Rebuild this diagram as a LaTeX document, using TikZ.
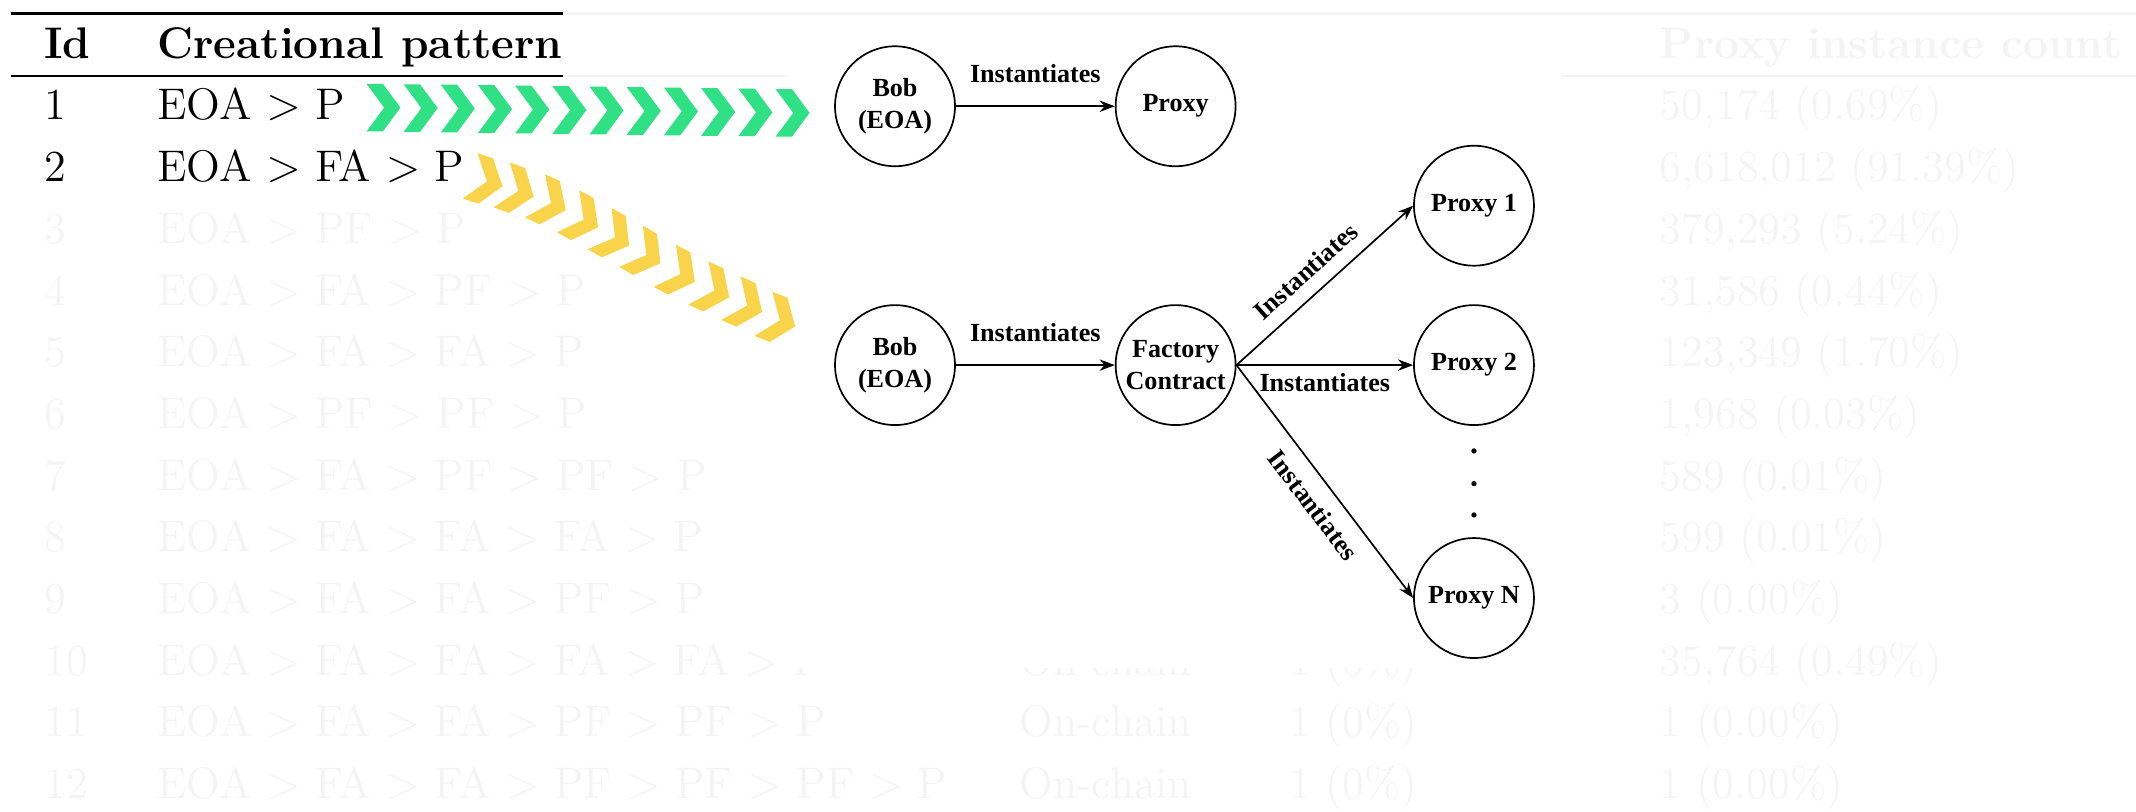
\documentclass[tikz,border=0pt]{standalone}
\usepackage{fontspec}
\newfontfamily\dgfont{Liberation Serif}
\usetikzlibrary{arrows.meta}
\definecolor{faint}{RGB}{244,244,244}
\definecolor{chgreen}{RGB}{47,224,133}
\definecolor{chyellow}{RGB}{249,212,74}
\tikzset{
  chev/.pic={\fill (-12.5,-17.5) -- (-0.5,-17.5) -- (12.5,0) -- (-0.5,17.5) -- (-12.5,17.5) -- (0.5,0) -- cycle;}
}
\begin{document}
\begin{tikzpicture}[x=0.36pt,y=-0.36pt,
  tabtxt/.style={anchor=base west, inner sep=0pt, font=\fontsize{11.7}{14}\selectfont},
  tabhead/.style={tabtxt, font=\fontsize{11.7}{14}\selectfont\bfseries},
  faded/.style={tabtxt, text=faint},
  actor/.style={circle, draw, line width=0.45pt, minimum size=31.7pt, inner sep=0pt,
    align=center, font=\dgfont\bfseries\fontsize{6.9}{8.4}\selectfont},
  inst/.style={-{Stealth[length=4pt,width=3pt]}, line width=0.45pt},
  lbl/.style={font=\dgfont\bfseries\fontsize{6.9}{8.4}\selectfont, inner sep=1pt},
  dotn/.style={circle, fill, inner sep=0pt, minimum size=1.4pt},
]
\useasboundingbox (0,0) rectangle (1568,596);

% ---------- table rules ----------
\draw[faint, line width=0.8pt] (413,10) -- (1568,10);
\draw[faint, line width=0.5pt] (413,56) -- (1568,56);
\draw[line width=0.8pt] (8,10) -- (413,10);
\draw[line width=0.5pt] (8,56) -- (413,56);

% ---------- header ----------
\node[tabhead] (hid) at (32,43) {Id};
\node[tabhead] (hpat) at (115,43) {Creational pattern};
\node[tabhead, text=faint] (hcnt) at (1218,43) {Proxy instance count};

% ---------- highlighted rows ----------
\node[tabtxt] (id1) at (32,88) {1};
\node[tabtxt] (pat1) at (115,88) {EOA $>$ P};
\node[tabtxt] (id2) at (32,133.3) {2};
\node[tabtxt] (pat2) at (115,133.3) {EOA $>$ FA $>$ P};

% ---------- remaining rows ----------
\foreach \n/\pat in {
  3/{EOA $>$ PF $>$ P},
  4/{EOA $>$ FA $>$ PF $>$ P},
  5/{EOA $>$ FA $>$ FA $>$ P},
  6/{EOA $>$ PF $>$ PF $>$ P},
  7/{EOA $>$ FA $>$ PF $>$ PF $>$ P},
  8/{EOA $>$ FA $>$ FA $>$ FA $>$ P},
  9/{EOA $>$ FA $>$ FA $>$ PF $>$ P},
  10/{EOA $>$ FA $>$ FA $>$ FA $>$ FA $>$ P},
  11/{EOA $>$ FA $>$ FA $>$ PF $>$ PF $>$ P},
  12/{EOA $>$ FA $>$ FA $>$ PF $>$ PF $>$ PF $>$ P}}{
  \node[faded] (id\n) at (32,{88+45.3*(\n-1)}) {\n};
  \node[faded] (pat\n) at (115,{88+45.3*(\n-1)}) {\pat};
}
\foreach \n/\cnt in {
  1/{50,174 (0.69\%)},
  2/{6,618,012 (91.39\%)},
  3/{379,293 (5.24\%)},
  4/{31,586 (0.44\%)},
  5/{123,349 (1.70\%)},
  6/{1,968 (0.03\%)},
  7/{589 (0.01\%)},
  8/{599 (0.01\%)},
  9/{3 (0.00\%)},
  10/{35,764 (0.49\%)},
  11/{1 (0.00\%)},
  12/{1 (0.00\%)}}{
  \node[faded] (cnt\n) at (1218,{88+45.3*(\n-1)}) {\cnt};
}
\foreach \n in {10,11,12}{
  \node[faded] (src\n) at (748,{88+45.3*(\n-1)}) {On-chain};
  \node[faded] (eoa\n) at (946,{88+45.3*(\n-1)}) {1 (0\%)};
}

% ---------- diagram panel ----------
\fill[white] (578,25) rectangle (1146,490);

\node[actor] (bob1) at (657,78) {Bob\\(EOA)};
\node[actor] (prx)  at (863,78) {Proxy};
\node[actor] (bob2) at (657,268) {Bob\\(EOA)};
\node[actor] (fac)  at (863,268) {Factory\\Contract};
\node[actor] (p1)   at (1082,151) {Proxy 1};
\node[actor] (p2)   at (1082,268) {Proxy 2};
\node[actor] (pn)   at (1082,439) {Proxy N};
\node[dotn] (d1) at (1082,331) {};
\node[dotn] (d2) at (1082,355) {};
\node[dotn] (d3) at (1082,378) {};

\draw[inst] (bob1) -- node[lbl, above=5pt] (e1) {Instantiates} (prx);
\draw[inst] (bob2) -- node[lbl, above=5pt] (e2) {Instantiates} (fac);
\draw[inst] (fac.east) -- node[lbl, sloped, pos=0.48, above=2.5pt] (e3) {Instantiates} (p1.west);
\draw[inst] (fac.east) -- node[lbl, below=1pt] (e4) {Instantiates} (p2.west);
\draw[inst] (fac.east) -- node[lbl, sloped, pos=0.54, below=2.5pt] (e5) {Instantiates} (pn.west);

% ---------- chevron trails ----------
\foreach \k in {0,...,11}
  \pic[color=chgreen] at ({281.5+27.3*\k},{79+0.35*\k}) {chev};
\foreach \cx/\cy/\ang in {357/133/-18, 380/140/-20, 404/149/-25, 428/161/-28, 451/174/-30,
                          474/187/-30, 499/201/-28, 524/213/-25, 548/224/-24, 572/235/-22}
  \pic[color=chyellow, rotate=\ang] at (\cx,\cy) {chev};
\end{tikzpicture}
\end{document}
